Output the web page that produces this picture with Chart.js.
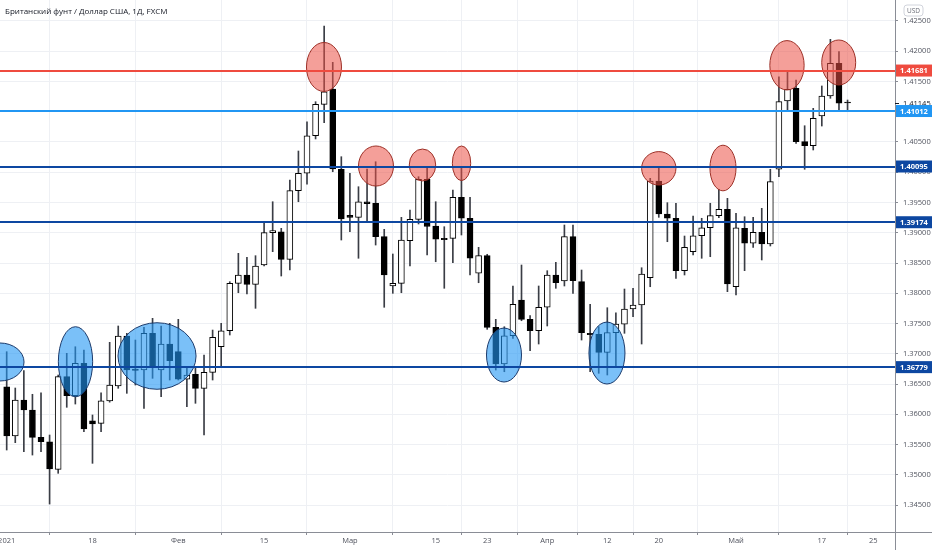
<!DOCTYPE html>
<html><head><meta charset="utf-8">
<script src="https://cdn.jsdelivr.net/npm/chart.js@4.4.0/dist/chart.umd.min.js"></script>
<style>
html,body{margin:0;padding:0;background:#fff;}
#wrap{position:relative;width:932px;height:550px;overflow:hidden;}
#title{position:absolute;left:5px;top:5px;font:8px "Open Sans",sans-serif;color:#131722;white-space:nowrap;}
canvas{display:block;}
</style></head><body>
<div id="wrap"><canvas id="c" width="932" height="550"></canvas><div id="title">Британский фунт / Доллар США, 1Д, FXCM</div></div>
<script>
const dates = [
"2021-01-04","2021-01-05","2021-01-06","2021-01-07","2021-01-08","2021-01-11","2021-01-12","2021-01-13","2021-01-14","2021-01-15",
"2021-01-18","2021-01-19","2021-01-20","2021-01-21","2021-01-22","2021-01-25","2021-01-26","2021-01-27","2021-01-28","2021-01-29",
"2021-02-01","2021-02-02","2021-02-03","2021-02-04","2021-02-05","2021-02-08","2021-02-09","2021-02-10","2021-02-11","2021-02-12",
"2021-02-15","2021-02-16","2021-02-17","2021-02-18","2021-02-19","2021-02-22","2021-02-23","2021-02-24","2021-02-25","2021-02-26",
"2021-03-01","2021-03-02","2021-03-03","2021-03-04","2021-03-05","2021-03-08","2021-03-09","2021-03-10","2021-03-11","2021-03-12",
"2021-03-15","2021-03-16","2021-03-17","2021-03-18","2021-03-19","2021-03-22","2021-03-23","2021-03-24","2021-03-25","2021-03-26",
"2021-03-29","2021-03-30","2021-03-31","2021-04-01","2021-04-02","2021-04-05","2021-04-06","2021-04-07","2021-04-08","2021-04-09",
"2021-04-12","2021-04-13","2021-04-14","2021-04-15","2021-04-16","2021-04-19","2021-04-20","2021-04-21","2021-04-22","2021-04-23",
"2021-04-26","2021-04-27","2021-04-28","2021-04-29","2021-04-30","2021-05-03","2021-05-04","2021-05-05","2021-05-06","2021-05-07",
"2021-05-10","2021-05-11","2021-05-12","2021-05-13","2021-05-14","2021-05-17","2021-05-18","2021-05-19","2021-05-20"];

const opens = [
1.36455,1.35640,1.36235,1.36070,1.35619,1.35546,1.35090,1.36621,1.36306,1.36842,
1.35893,1.35850,1.36219,1.36467,1.37293,1.36748,1.36731,1.37338,1.36731,1.37161,
1.37034,1.36578,1.36660,1.36429,1.36693,1.37116,1.37381,1.38164,1.38302,1.38148,
1.38467,1.39001,1.39017,1.38561,1.39695,1.39983,1.40604,1.41123,1.41376,1.40049,
1.39288,1.39255,1.39513,1.39487,1.38935,1.38120,1.38164,1.38868,1.39222,1.39883,
1.39111,1.38908,1.38908,1.39586,1.39239,1.38330,1.38621,1.37437,1.36830,1.37298,
1.37888,1.37569,1.37381,1.37768,1.38302,1.38202,1.38935,1.38191,1.37338,1.37321,
1.37024,1.37348,1.37487,1.37740,1.37806,1.38257,1.39855,1.39310,1.39239,1.38373,
1.38687,1.38951,1.39083,1.39282,1.39388,1.38108,1.39073,1.38826,1.39007,1.38814,
1.40049,1.41178,1.41388,1.40505,1.40439,1.40930,1.41260,1.41801,1.41145];

const highs = [
1.37034,1.36434,1.36720,1.36330,1.36356,1.35657,1.36649,1.37007,1.37116,1.37062,
1.35988,1.36356,1.37189,1.37459,1.37338,1.37227,1.37437,1.37586,1.37459,1.37503,
1.37569,1.36786,1.36759,1.36979,1.37392,1.37503,1.38191,1.38660,1.38594,1.38621,
1.39183,1.39513,1.39073,1.39872,1.40351,1.40835,1.41166,1.42417,1.41817,1.40257,
1.39983,1.39761,1.40054,1.40174,1.39057,1.38649,1.39255,1.39376,1.39926,1.40065,
1.39513,1.39100,1.39707,1.40065,1.39586,1.38759,1.38644,1.37569,1.37447,1.38120,
1.38467,1.37629,1.38120,1.38373,1.38511,1.39128,1.39128,1.38384,1.37817,1.37447,
1.37761,1.37678,1.38070,1.38082,1.38422,1.39900,1.40065,1.39497,1.39487,1.38946,
1.39277,1.39239,1.39487,1.39718,1.39569,1.39321,1.39265,1.39255,1.39404,1.40049,
1.41579,1.41662,1.41525,1.40769,1.41057,1.41426,1.42197,1.41993,1.41194];

const lows = [
1.35409,1.35530,1.35381,1.35326,1.35381,1.34516,1.35024,1.36115,1.36169,1.35711,
1.35189,1.35711,1.36200,1.36429,1.36346,1.36483,1.36098,1.36594,1.36290,1.36566,
1.36566,1.36125,1.36181,1.35657,1.36566,1.36786,1.37310,1.38009,1.37988,1.37751,
1.38450,1.38687,1.38285,1.38384,1.39513,1.39801,1.40550,1.40819,1.40009,1.38880,
1.39017,1.38578,1.39199,1.38797,1.37768,1.37999,1.38009,1.38450,1.39145,1.38632,
1.38521,1.38082,1.38505,1.38963,1.38302,1.38174,1.37404,1.36731,1.36703,1.37255,
1.37546,1.37050,1.37161,1.37459,1.38082,1.38120,1.37999,1.37227,1.36703,1.36677,
1.36649,1.36786,1.37338,1.37612,1.37161,1.38108,1.39255,1.38852,1.38247,1.38302,
1.38632,1.38578,1.38604,1.39249,1.38026,1.37971,1.38373,1.38759,1.38550,1.38781,
1.39926,1.41029,1.40478,1.40049,1.40368,1.40764,1.41222,1.41001,1.41029];

const closes = [
1.35640,1.36235,1.36070,1.35619,1.35546,1.35095,1.36621,1.36306,1.36842,1.35756,
1.35839,1.36224,1.36483,1.37293,1.36731,1.36726,1.37338,1.36786,1.37161,1.36885,
1.36578,1.36649,1.36429,1.36693,1.37272,1.37381,1.38164,1.38302,1.38148,1.38450,
1.39001,1.39034,1.38561,1.39695,1.39983,1.40604,1.41123,1.41331,1.40054,1.39227,
1.39255,1.39513,1.39480,1.38935,1.38302,1.38164,1.38880,1.39222,1.39883,1.39103,
1.38892,1.38885,1.39586,1.39239,1.38578,1.38621,1.37437,1.36830,1.37298,1.37817,
1.37569,1.37381,1.37768,1.38302,1.38174,1.38935,1.38207,1.37348,1.37315,1.37024,
1.37348,1.37492,1.37740,1.37806,1.38318,1.39855,1.39310,1.39239,1.38373,1.38759,
1.38951,1.39083,1.39282,1.39388,1.38153,1.39083,1.38826,1.39007,1.38814,1.39844,
1.41166,1.41371,1.40505,1.40439,1.40892,1.41260,1.41801,1.41140,1.41145];

// x-axis tick positions (trading-day index) and their labels
const xTickIdx  = [0, 10, 20, 30, 40, 50, 56, 63, 70, 76, 85, 95, 101];
const xTickText = ["2021","18","Фев","15","Мар","15","23","Апр","12","20","Май","17","25"];

// price-axis ticks
const yTicks = [1.345,1.350,1.355,1.360,1.365,1.370,1.375,1.380,1.385,1.390,1.395,1.400,1.405,1.410,1.415,1.420,1.425];

// horizontal levels
const levelValues = [1.41681, 1.41012, 1.40095, 1.39174, 1.36779];
const levelColors = ["#ef4b3f", "#2196f3", "#0d47a1", "#0d47a1", "#0d47a1"];

// highlight ellipses: centre (day index, price), radii (days, price), kind
const ellX  = [-0.78, 8.02, 17.52, 57.96, 69.96, 36.98, 43.04, 48.46, 53.01, 76.0, 83.48, 90.94, 96.97];
const ellY  = [1.36864, 1.36868, 1.36963, 1.36979, 1.37012, 1.41740, 1.40103, 1.40120, 1.40148, 1.40065, 1.40070, 1.41768, 1.41814];
const ellRX = [2.8, 2.0, 4.55, 2.04, 2.1, 2.04, 2.04, 1.54, 1.07, 2.0, 1.52, 2.0, 1.98];
const ellRY = [0.00314, 0.00579, 0.0055, 0.00446, 0.00512, 0.00405, 0.00331, 0.00264, 0.00286, 0.00276, 0.00377, 0.00408, 0.00372];
const ellKind = ["b","b","b","b","b","r","r","r","r","r","r","r","r"];

const lastPrice = closes[closes.length - 1];

const FONT = '"Open Sans", sans-serif';

const bodyData = dates.map((d, i) => ({x: i, y: [opens[i], closes[i]]}));
const wickData = dates.map((d, i) => ({x: i, y: [lows[i], highs[i]]}));
const bodyFill = dates.map((d, i) => closes[i] > opens[i] ? "#ffffff" : "#000000");

const overlay = {
  id: "overlay",
  afterDatasetsDraw(chart) {
    const {ctx, chartArea: a, scales: {x, y}} = chart;
    ctx.save();
    ctx.beginPath(); ctx.rect(a.left, a.top, a.right - a.left, a.bottom - a.top); ctx.clip();
    for (let k = 0; k < ellX.length; k++) {
      const px = x.getPixelForValue(ellX[k]), py = y.getPixelForValue(ellY[k]);
      const rx = Math.abs(x.getPixelForValue(ellX[k] + ellRX[k]) - px);
      const ry = Math.abs(y.getPixelForValue(ellY[k] + ellRY[k]) - py);
      ctx.beginPath(); ctx.ellipse(px, py, rx, ry, 0, 0, Math.PI * 2);
      ctx.fillStyle = ellKind[k] === "r" ? "rgba(235,80,70,0.55)" : "rgba(33,150,243,0.6)";
      ctx.fill();
      ctx.lineWidth = 1;
      ctx.strokeStyle = ellKind[k] === "r" ? "#9c2f26" : "#1b3a6b";
      ctx.stroke();
    }
    levelValues.forEach((v, k) => {
      const py = Math.round(y.getPixelForValue(v));
      ctx.beginPath(); ctx.moveTo(a.left, py); ctx.lineTo(a.right, py);
      ctx.strokeStyle = levelColors[k]; ctx.lineWidth = 2; ctx.stroke();
    });
    ctx.restore();
  },
  afterDraw(chart) {
    const {ctx, chartArea: a, scales: {y}} = chart;
    ctx.save();
    ctx.strokeStyle = "#8a8d96"; ctx.lineWidth = 1;
    ctx.beginPath(); ctx.moveTo(a.right + 0.5, 0); ctx.lineTo(a.right + 0.5, chart.height); ctx.stroke();
    ctx.beginPath(); ctx.moveTo(0, a.bottom + 0.5); ctx.lineTo(chart.width, a.bottom + 0.5); ctx.stroke();

    // last price
    const lpY = Math.round(y.getPixelForValue(lastPrice)) + 0.5;
    ctx.strokeStyle = "#131722";
    ctx.beginPath(); ctx.moveTo(a.right, lpY); ctx.lineTo(a.right + 4, lpY); ctx.stroke();
    ctx.fillStyle = "#131722"; ctx.font = "7.5px " + FONT; ctx.textBaseline = "middle"; ctx.textAlign = "left";
    ctx.fillText(lastPrice.toFixed(5), a.right + 8, lpY);

    // level labels
    ctx.font = "bold 7.5px " + FONT;
    levelValues.forEach((v, k) => {
      const py = y.getPixelForValue(v);
      ctx.fillStyle = levelColors[k];
      ctx.fillRect(a.right + 1, py - 6, 36, 12);
      ctx.fillStyle = "#ffffff";
      ctx.fillText(v.toFixed(5), a.right + 5, py + 0.5);
    });

    // currency box
    const bx = a.right + 9, by = 5, bw = 19, bh = 11, r = 3;
    ctx.beginPath();
    ctx.moveTo(bx + r, by); ctx.lineTo(bx + bw - r, by); ctx.quadraticCurveTo(bx + bw, by, bx + bw, by + r);
    ctx.lineTo(bx + bw, by + bh - r); ctx.quadraticCurveTo(bx + bw, by + bh, bx + bw - r, by + bh);
    ctx.lineTo(bx + r, by + bh); ctx.quadraticCurveTo(bx, by + bh, bx, by + bh - r);
    ctx.lineTo(bx, by + r); ctx.quadraticCurveTo(bx, by, bx + r, by);
    ctx.fillStyle = "#ffffff"; ctx.fill();
    ctx.strokeStyle = "#d1d4dc"; ctx.stroke();
    ctx.fillStyle = "#6a6d78"; ctx.font = "6.5px " + FONT; ctx.textAlign = "center";
    ctx.fillText("USD", bx + bw / 2, by + bh / 2 + 0.5);
    ctx.restore();
  }
};

new Chart(document.getElementById("c"), {
  type: "bar",
  data: {
    datasets: [
      {
        label: "body",
        data: bodyData,
        backgroundColor: bodyFill,
        borderColor: "#000000",
        borderWidth: 1,
        borderSkipped: false,
        barThickness: 6,
        minBarLength: 1,
        grouped: false
      },
      {
        label: "wick",
        data: wickData,
        backgroundColor: "#3a3d45",
        borderWidth: 0,
        barThickness: 1,
        grouped: false
      }
    ]
  },
  options: {
    responsive: false,
    animation: false,
    layout: {padding: 0},
    plugins: {legend: {display: false}, tooltip: {enabled: false}},
    scales: {
      x: {
        type: "linear",
        position: "bottom",
        min: -0.78,
        max: 103.53,
        offset: false,
        afterBuildTicks: s => { s.ticks = xTickIdx.map(v => ({value: v})); },
        afterFit: s => { s.height = 18; s.paddingLeft = 0; s.paddingRight = 0; },
        ticks: {
          autoSkip: false, maxRotation: 0, padding: 1,
          color: "#50535e", font: {size: 7.5, family: FONT},
          callback: v => { const k = xTickIdx.indexOf(v); return k >= 0 ? xTickText[k] : ""; }
        },
        grid: {color: "#eef0f4", lineWidth: 1, tickLength: 3, tickColor: "#8a8d96"},
        border: {display: false}
      },
      y: {
        type: "linear",
        position: "right",
        min: 1.34054,
        max: 1.42847,
        afterBuildTicks: s => { s.ticks = yTicks.map(v => ({value: v})); },
        afterFit: s => { s.width = 37; s.paddingTop = 0; s.paddingBottom = 0; },
        ticks: {
          padding: 5, color: "#50535e", font: {size: 7.5, family: FONT},
          callback: v => v.toFixed(5)
        },
        grid: {color: "#eef0f4", lineWidth: 1, tickLength: 3, tickColor: "#8a8d96"},
        border: {display: false}
      }
    }
  },
  plugins: [overlay]
});
</script>
</body></html>
